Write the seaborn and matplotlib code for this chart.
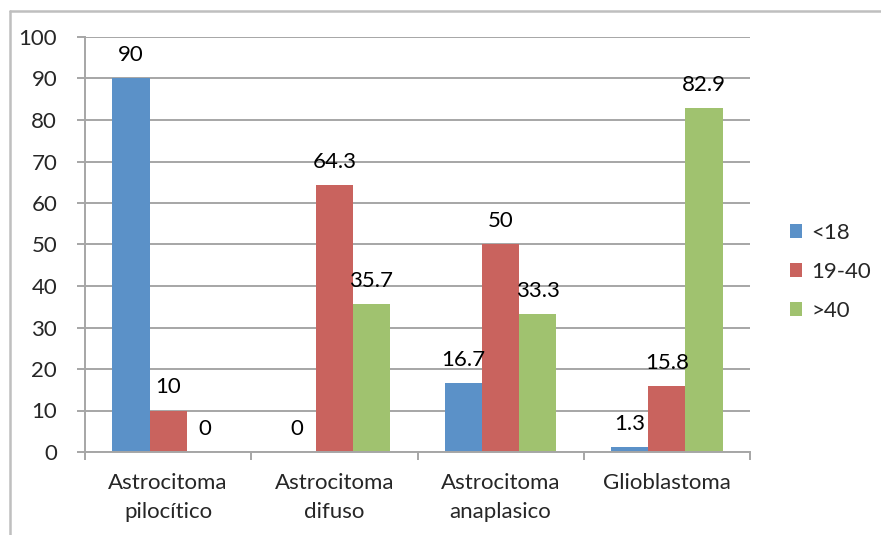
import numpy as np
import pandas as pd
import seaborn as sns
import matplotlib
matplotlib.use("Agg")
import matplotlib.pyplot as plt
from matplotlib.lines import Line2D

categories = ["Astrocitoma\npilocítico", "Astrocitoma\ndifuso",
              "Astrocitoma\nanaplasico", "Glioblastoma"]
age_groups = ["<18", "19-40", ">40"]
under_18 = [90, 0, 16.7, 1.3]
age_19_40 = [10, 64.3, 50, 15.8]
over_40 = [0, 35.7, 33.3, 82.9]
colors = ["#5b91c8", "#c9635e", "#a0c26f"]
y_ticks = list(range(0, 101, 10))

rows = []
for group, vals in zip(age_groups, [under_18, age_19_40, over_40]):
    for cat, v in zip(categories, vals):
        rows.append({"tipo": cat, "edad": group, "pct": v})
df = pd.DataFrame(rows)

sns.set_theme(style="white")
plt.rcParams["font.family"] = ["Lato", "DejaVu Sans"]
FS = 16

fig = plt.figure(figsize=(8.81, 5.35), dpi=100)
ax = fig.add_axes([85 / 881, 1 - 452 / 535, (750 - 85) / 881, (452 - 37) / 535])

sns.barplot(data=df, x="tipo", y="pct", hue="edad", order=categories,
            hue_order=age_groups, palette=colors, width=0.67,
            saturation=1, linewidth=0, ax=ax, legend=True)

for cont in ax.containers:
    labels = ["{:g}".format(b.get_height()) for b in cont]
    for bar, lab in zip(cont, labels):
        ax.annotate(lab, (bar.get_x() + bar.get_width() / 2, bar.get_height()),
                    xytext=(0, 12.3), textcoords="offset points",
                    ha="center", va="baseline", fontsize=FS, color="black")

ax.set_ylim(0, 100)
ax.set_xlim(-0.5, len(categories) - 0.5)
ax.set_yticks(y_ticks)
ax.set_yticklabels([str(t) for t in y_ticks], fontsize=FS)
ax.yaxis.grid(True, color="#a6a6a6", linewidth=1.4)
ax.set_axisbelow(True)
ax.set_xlabel("")
ax.set_ylabel("")

ax.set_xticks(range(len(categories)))
ax.set_xticklabels(categories, fontsize=FS, linespacing=1.6)
ax.set_xticks(np.arange(-0.5, len(categories), 1), minor=True)
ax.tick_params(axis="x", which="major", length=0, pad=15)
ax.tick_params(axis="x", which="minor", length=6, width=1.4, color="#a6a6a6",
               direction="out", bottom=True)
ax.tick_params(axis="y", length=6, width=1.4, color="#a6a6a6",
               direction="out", left=True, pad=14)

for side in ["top", "right"]:
    ax.spines[side].set_visible(False)
for side in ["left", "bottom"]:
    ax.spines[side].set_color("#a6a6a6")
    ax.spines[side].set_linewidth(1.4)

handles, labs = ax.get_legend_handles_labels()
leg = ax.legend(handles, labs, loc="center left", bbox_to_anchor=(1.03, 0.434),
                frameon=False, fontsize=FS, handlelength=0.55, handleheight=0.55,
                handletextpad=0.4, labelspacing=0.85)

# chart frame on the top and left edges
fig.add_artist(Line2D([9.5 / 881, 1], [1 - 10.5 / 535, 1 - 10.5 / 535],
                      transform=fig.transFigure, color="#bfbfbf", linewidth=1.8))
fig.add_artist(Line2D([9.5 / 881, 9.5 / 881], [0, 1 - 10.5 / 535],
                      transform=fig.transFigure, color="#bfbfbf", linewidth=1.8))

fig.savefig("out.png", dpi=100)
